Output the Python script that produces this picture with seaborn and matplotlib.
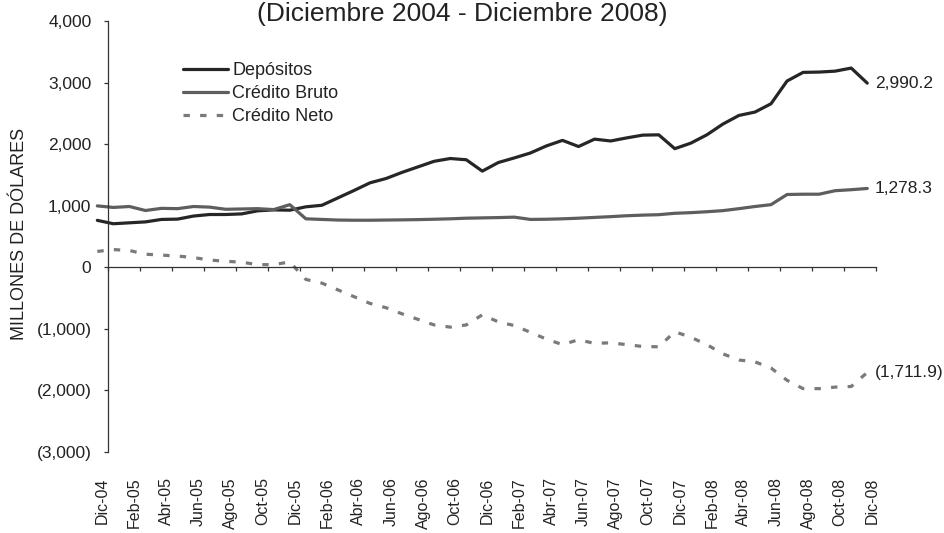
import numpy as np
import pandas as pd
import matplotlib
matplotlib.use("Agg")
import matplotlib.pyplot as plt
from matplotlib.ticker import FuncFormatter
from matplotlib.transforms import ScaledTranslation
import seaborn as sns

# monthly series, Dic-04 .. Dic-08 (millones de dolares)
depositos = [760, 705, 720, 735, 775, 780, 830, 855, 855, 865, 915, 930, 925,
             980, 1005, 1125, 1245, 1370, 1440, 1540, 1630, 1720, 1765, 1745, 1560,
             1700, 1775, 1855, 1970, 2060, 1960, 2080, 2050, 2100, 2145, 2150, 1925,
             2015, 2150, 2325, 2465, 2520, 2655, 3025, 3165, 3170, 3185, 3235, 2990.2]
credito_bruto = [995, 970, 985, 920, 955, 950, 985, 975, 940, 945, 950, 935, 1015,
                 785, 775, 765, 762, 762, 765, 768, 772, 778, 785, 795, 800,
                 805, 812, 775, 778, 785, 795, 808, 820, 835, 845, 852, 875,
                 885, 900, 918, 950, 985, 1015, 1180, 1185, 1185, 1242, 1258, 1278.3]
credito_neto = [255, 285, 270, 210, 195, 180, 155, 115, 95, 80, 40, 40, 85,
                -200, -260, -370, -480, -590, -660, -760, -850, -940, -975, -940, -775,
                -890, -950, -1060, -1170, -1260, -1180, -1240, -1230, -1260, -1290, -1295, -1050,
                -1140, -1260, -1410, -1510, -1540, -1640, -1840, -1975, -1975, -1950, -1940, -1711.9]

meses_abr = ["Ene", "Feb", "Mar", "Abr", "May", "Jun", "Jul", "Ago", "Sep", "Oct", "Nov", "Dic"]
meses = ["Dic-04"] + [f"{m}-{a:02d}" for a in range(5, 9) for m in meses_abr]

df = pd.DataFrame({"mes": np.arange(len(meses)), "Depósitos": depositos,
                   "Crédito Bruto": credito_bruto, "Crédito Neto": credito_neto})

sns.set_style("white")
plt.rcParams["font.family"] = ["Liberation Sans", "DejaVu Sans"]
txt = "#222222"

fig = plt.figure(figsize=(9.45, 5.33), dpi=100)
ax = fig.add_axes([89.3 / 945, (533 - 451.7) / 533, 794 / 945, 430.7 / 533])

sns.lineplot(data=df, x="mes", y="Depósitos", ax=ax, color="#262626", lw=2.3, label="Depósitos")
sns.lineplot(data=df, x="mes", y="Crédito Bruto", ax=ax, color="#5e5e5e", lw=2.3, label="Crédito Bruto")
sns.lineplot(data=df, x="mes", y="Crédito Neto", ax=ax, color="#7a7a7a", lw=2.3,
             linestyle=(0, (2, 3.2)), label="Crédito Neto")

ax.set_xlim(-0.5, 49)
ax.set_ylim(-3000, 4000)
ax.set_xlabel("")
ax.set_ylabel("")

# axis lines: y axis a bit right of first point, x axis on zero
x0 = 0.66
for s in ["top", "right"]:
    ax.spines[s].set_visible(False)
ax.spines["left"].set_position(("data", x0))
ax.spines["left"].set_bounds(-3000, 4000)
ax.spines["bottom"].set_position(("data", 0))
ax.spines["bottom"].set_bounds(x0, x0 + 47.9)
for s in ["left", "bottom"]:
    ax.spines[s].set_color("#333333")
    ax.spines[s].set_linewidth(0.9)

ax.set_xticks(x0 + np.arange(0, 49, 2) * 0.9975)
ax.tick_params(axis="x", bottom=True, direction="out", length=3, width=0.9, color="#333333",
               labelbottom=False)
ax.set_yticks(np.arange(-3000, 4001, 1000))
ax.yaxis.set_major_formatter(FuncFormatter(lambda v, p: f"{v:,.0f}" if v >= 0 else f"({-v:,.0f})"))
ax.tick_params(axis="y", left=True, direction="out", length=3, width=0.9, color="#333333",
               pad=8.9, labelsize=12.5, labelcolor=txt)

# month labels along the bottom
sec = ax.secondary_xaxis("bottom")
sec.set_xticks(df["mes"][::2], meses[::2])
sec.tick_params(length=0, pad=18.5, labelsize=11.5, labelcolor=txt, labelrotation=90)
sec.spines["bottom"].set_visible(False)
shift = ScaledTranslation(5 / 100, 0, fig.dpi_scale_trans)
for lbl in sec.get_xticklabels():
    lbl.set_transform(lbl.get_transform() + shift)

# last values
last = df.iloc[-1]
for col, lab in [("Depósitos", "2,990.2"), ("Crédito Bruto", "1,278.3"), ("Crédito Neto", "(1,711.9)")]:
    ax.annotate(lab, (last["mes"], last[col]), xytext=(5.5, 0), textcoords="offset points",
                va="center", ha="left", fontsize=12.5, color=txt)

ax.legend(loc="upper left", bbox_to_anchor=(183 / 945, (533 - 62) / 533),
          bbox_transform=fig.transFigure, frameon=False, fontsize=13, borderpad=0,
          borderaxespad=0, handlelength=2.5, handletextpad=0.22, labelspacing=0.33,
          labelcolor=txt)

fig.text(19.5 / 945, (533 - 234) / 533, "MILLONES DE DÓLARES", rotation=90,
         ha="center", va="center", fontsize=13, color=txt)
fig.text(462 / 945, (533 - 20.7) / 533, "(Diciembre 2004 - Diciembre 2008)",
         ha="center", va="baseline", fontsize=19, color=txt)

fig.savefig("out.png", dpi=100)
